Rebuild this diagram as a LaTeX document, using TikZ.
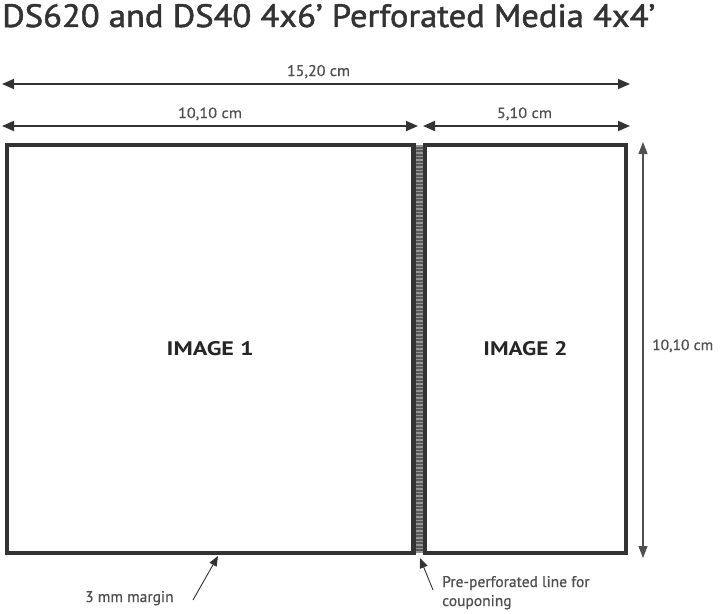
\documentclass[tikz,border=0pt]{standalone}
\usepackage{fontspec}
\setmainfont{PT Sans}
\newfontfamily\titlefont[FakeBold=1.5]{PT Sans}
\newfontfamily\labelfont[FakeBold=0.6]{PT Sans}
\usetikzlibrary{arrows.meta}
\definecolor{ink}{HTML}{333333}
\definecolor{txt}{HTML}{505050}
\newcommand{\fitbox}[3]{\resizebox{#1}{#2}{#3}}
\tikzset{
  x=1pt, y=-1pt,
  dimline/.style={draw=ink, line width=1.8pt, {Triangle[length=12pt,width=10pt]}-{Triangle[length=12pt,width=10pt]}},
  vdimline/.style={draw=txt, line width=1.1pt, {Triangle[length=12pt,width=9pt]}-{Triangle[length=12pt,width=9pt]}},
  pointer/.style={draw=ink, line width=0.9pt, -{Triangle[length=10pt,width=8pt]}},
  lbl/.style={text=txt, inner sep=0pt, anchor=base, font=\labelfont},
  notelbl/.style={text=txt, inner sep=0pt, anchor=base west, font=\labelfont\fontsize{15.5}{19}\selectfont},
  photo/.style={draw=ink, line width=4.8pt, inner sep=0pt, text=black!85, font=\bfseries},
}
\begin{document}
\begin{tikzpicture}
\useasboundingbox[fill=white] (0,0) rectangle (720,613);
% title
\node[anchor=base west, inner sep=0pt, text=ink, font=\titlefont] (title) at (2,27)
  {\fitbox{653pt}{23pt}{DS620 and DS40 4x6’ Perforated Media 4x4’}};
% boxes
\node[photo, minimum width=406.5pt, minimum height=408pt] (img1) at (210.25,349)
  {\fitbox{87pt}{14pt}{IMAGE 1}};
\node[photo, minimum width=201pt, minimum height=408pt] (img2) at (525.5,349)
  {\fitbox{84pt}{14pt}{IMAGE 2}};
% perforation strip
\coordinate (pt) at (419.25,145);
\coordinate (pb) at (419.25,553);
\draw[line width=7pt, draw=black!65] (pt) -- (pb);
\draw[line width=7pt, draw=black!42, dash pattern=on 1.5pt off 2pt] (pt) -- (pb);
% dimension arrows
\coordinate (a1) at (2,84);   \coordinate (a2) at (630,84);
\coordinate (b1) at (2,126);  \coordinate (b2) at (418,126);
\coordinate (c1) at (423,126); \coordinate (c2) at (630,126);
\coordinate (d1) at (643,142); \coordinate (d2) at (643,558);
\draw[dimline] (a1) -- (a2);
\draw[dimline] (b1) -- (b2);
\draw[dimline] (c1) -- (c2);
\draw[vdimline] (d1) -- (d2);
\node[lbl] (l1) at (318.5,76) {\fitbox{63pt}{11pt}{15,20 cm}};
\node[lbl] (l2) at (210,118) {\fitbox{64pt}{10.5pt}{10,10 cm}};
\node[lbl] (l3) at (524.5,118) {\fitbox{55pt}{10.5pt}{5,10 cm}};
\node[lbl, anchor=base west] (l4) at (652,350) {\fitbox{61pt}{10.5pt}{10,10 cm}};
% notes
\node[notelbl] (m) at (85,602) {3 mm margin};
\coordinate (mt) at (218,556);
\coordinate (ms) at (193,600);
\draw[pointer] (ms) -- (mt);
\node[notelbl] (p1) at (442,587) {Pre-perforated line for};
\node[notelbl] (p2) at (442,606) {couponing};
\coordinate (pt2) at (420,558);
\coordinate (ps) at (433,590);
\draw[pointer] (ps) -- (pt2);
\end{tikzpicture}
\end{document}
